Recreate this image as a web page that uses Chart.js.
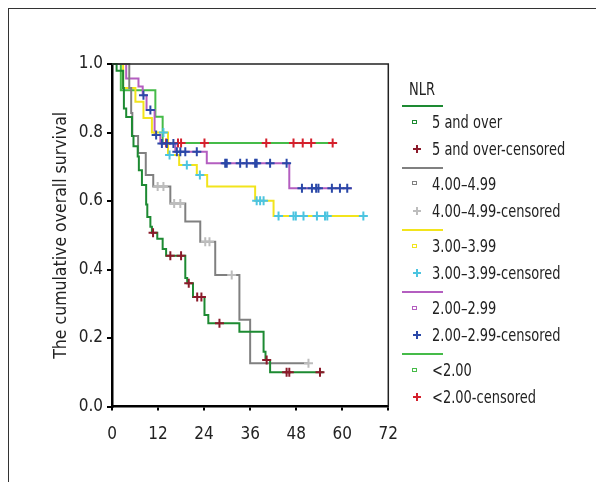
<!DOCTYPE html>
<html>
<head>
<meta charset="utf-8">
<script src="https://cdn.jsdelivr.net/npm/chart.js@4.4.1/dist/chart.umd.min.js"></script>
<style>
  body { margin: 0; background: #fff; font-family: "DejaVu Sans Condensed", "DejaVu Sans", sans-serif; }
  #frame { position: absolute; left: 8px; top: 8px; width: 600px; height: 480px; border-top: 1.5px solid #333; border-left: 1.5px solid #333; }
  #wrap { position: absolute; left: 0; top: 0; width: 596px; height: 482px; }
  .txt { position: absolute; font-size: 17px; line-height: 20px; color: #222; white-space: nowrap;
         transform: scaleX(0.85); transform-origin: 0 50%; }
  .ln { position: absolute; left: 402px; width: 41px; height: 2px; }
  .sq { position: absolute; left: 412px; width: 3px; height: 2px; border: 1.5px solid; }
  .cr { position: absolute; width: 8px; height: 8px; }
  .cr .h { position: absolute; left: 0; top: 3px; width: 8px; height: 2px; }
  .cr .v { position: absolute; left: 3px; top: 0; width: 2px; height: 8px; }
</style>
</head>
<body>
<div id="frame"></div>
<div id="wrap"><canvas id="km"></canvas></div>
<div id="legend"></div>
<script>
(function () {
  'use strict';

  const legendTitle = 'NLR';
  const groups = ['5 and over', '4.00–4.99', '3.00–3.99', '2.00–2.99', '<2.00'];
  const lineColors = ['#1d8a32', '#808080', '#f2e41c', '#b45ec0', '#45bb48'];
  const censorColors = ['#8b1a2a', '#bdbdbd', '#4cc4e0', '#2a48a8', '#d4202c'];

  // step points: [month, survival after the step]
  const over5Steps = [[0, 1], [1.2, 0.98], [2.9, 0.93], [3.1, 0.87], [3.7, 0.845], [5.2, 0.79], [5.6, 0.76],
    [6.7, 0.73], [7.0, 0.69], [7.8, 0.647], [8.9, 0.59], [9.2, 0.553], [10.0, 0.525], [10.4, 0.507],
    [11.8, 0.49], [13.2, 0.46], [14.1, 0.44], [19.1, 0.375], [19.6, 0.36], [21.1, 0.32], [24.1, 0.267],
    [25.1, 0.243], [33.2, 0.218], [39.5, 0.16], [40.0, 0.136], [41.2, 0.10], [55.1, 0.10]];
  const over5Censored = [10.7, 15.2, 18.0, 20.0, 22.2, 23.3, 28.0, 40.3, 45.5, 46.2, 54.2];

  const nlr4Steps = [[0, 1], [4.5, 0.93], [5.0, 0.857], [5.3, 0.79], [6.8, 0.74], [8.8, 0.676], [10.75, 0.642],
    [15.2, 0.593], [19.1, 0.54], [23.0, 0.481], [26.9, 0.384], [33.2, 0.253], [36.0, 0.126], [51.2, 0.126]];
  const nlr4Censored = [11.9, 13.4, 16.2, 17.8, 24.3, 25.4, 31.2, 51.2];

  const nlr3Steps = [[0, 1], [2.9, 0.93], [6.1, 0.89], [8.2, 0.842], [10.4, 0.80], [14.6, 0.734], [17.5, 0.705],
    [22.1, 0.676], [24.8, 0.642], [37.3, 0.601], [42.1, 0.556], [65.5, 0.556]];
  const nlr3Censored = [13.4, 15.0, 19.5, 22.9, 37.7, 38.6, 39.5, 43.4, 47.3, 47.9, 49.9, 53.4, 55.5, 56.1, 65.5];

  const nlr2Steps = [[0, 1], [3.7, 0.958], [6.9, 0.934], [8.0, 0.909], [9.0, 0.866], [11.1, 0.793], [12.6, 0.768],
    [16.5, 0.744], [24.7, 0.71], [46.2, 0.637], [62.5, 0.637]];
  const nlr2Censored = [8.2, 10.0, 11.5, 13.0, 14.3, 16.0, 16.9, 17.8, 19.1, 22.1, 29.5, 29.9, 33.4, 35.1, 37.3,
    37.7, 41.2, 45.5, 49.5, 52.1, 53.2, 53.8, 57.3, 59.4, 61.3];

  const under2Steps = [[0, 1], [2.3, 0.923], [11.3, 0.846], [13.2, 0.769], [58.6, 0.769]];
  const under2Censored = [14.1, 17.2, 18.0, 24.1, 40.2, 47.3, 49.7, 51.9, 57.5];

  const xTicks = [0, 12, 24, 36, 48, 60, 72];
  const yTicks = [0, 0.2, 0.4, 0.6, 0.8, 1.0];

  const allSteps = [over5Steps, nlr4Steps, nlr3Steps, nlr2Steps, under2Steps];
  const allCensored = [over5Censored, nlr4Censored, nlr3Censored, nlr2Censored, under2Censored];

  // survival level of a curve at time t (the step it sits on)
  function levelAt(steps, t) {
    let s = steps[0][1];
    steps.forEach(p => { if (p[0] <= t) s = p[1]; });
    return s;
  }

  const datasets = [];
  groups.forEach((g, i) => {
    datasets.push({
      type: 'line',
      label: g,
      order: 1,
      data: allSteps[i].map(p => ({ x: p[0], y: p[1] })),
      stepped: 'before', // horizontal, then drop at the event time
      borderColor: lineColors[i],
      borderWidth: 2,
      pointRadius: 0,
      fill: false,
      clip: 3
    });
  });
  // censored marks drawn on top of the curves
  groups.forEach((g, i) => {
    datasets.push({
      type: 'scatter',
      label: g + '-censored',
      order: 0,
      data: allCensored[i].map(t => ({ x: t, y: levelAt(allSteps[i], t) })),
      pointStyle: 'cross',
      pointRadius: 4.5,
      pointBorderWidth: 2,
      borderColor: censorColors[i],
      backgroundColor: censorColors[i],
      clip: 6
    });
  });

  const fontFamily = '"DejaVu Sans Condensed", "DejaVu Sans", sans-serif';

  const boxPlugin = {
    id: 'box',
    afterDatasetsDraw(chart) {
      const a = chart.chartArea;
      const ctx = chart.ctx;
      ctx.save();
      ctx.strokeStyle = '#222';
      ctx.lineWidth = 1.5;
      ctx.beginPath();
      ctx.moveTo(a.left, a.top);
      ctx.lineTo(a.right, a.top);
      ctx.lineTo(a.right, a.bottom);
      ctx.stroke();
      ctx.restore();
    }
  };

  new Chart(document.getElementById('km'), {
    data: { datasets: datasets },
    plugins: [boxPlugin],
    options: {
      responsive: true,
      maintainAspectRatio: false,
      animation: false,
      layout: { padding: { top: 64, left: 40, right: 207.7, bottom: 25.5 } },
      plugins: { legend: { display: false }, tooltip: { enabled: false } },
      scales: {
        x: {
          type: 'linear',
          min: xTicks[0],
          max: xTicks[xTicks.length - 1],
          afterBuildTicks: s => { s.ticks = xTicks.map(v => ({ value: v })); },
          afterFit: s => { s.height = 50; },
          ticks: { color: '#222', font: { family: fontFamily, size: 17 }, padding: 14, maxRotation: 0 },
          grid: { drawOnChartArea: false, drawTicks: true, tickLength: 4, color: '#000', lineWidth: 2 },
          border: { color: '#000', width: 2.5 }
        },
        y: {
          type: 'linear',
          min: 0,
          max: 1,
          afterBuildTicks: s => { s.ticks = yTicks.map(v => ({ value: v })); },
          afterFit: s => { s.width = 72; },
          ticks: { color: '#222', font: { family: fontFamily, size: 17 }, padding: 4, callback: v => v.toFixed(1) },
          grid: { drawOnChartArea: false, drawTicks: true, tickLength: 5, color: '#000', lineWidth: 2 },
          border: { color: '#000', width: 2.5 },
          title: { display: true, text: 'The cumulative overall survival', color: '#222',
                   font: { family: fontFamily, size: 17.5 }, padding: { top: 11, bottom: 0 } }
        }
      }
    }
  });

  // legend built from the same arrays
  const legend = document.getElementById('legend');
  function addText(text, left, cy) {
    const d = document.createElement('div');
    d.className = 'txt';
    d.textContent = text;
    d.style.left = left + 'px';
    d.style.top = (cy - 10) + 'px';
    legend.appendChild(d);
  }
  addText(legendTitle, 409, 88.5);
  const lineY = [106, 167.5, 230, 292, 354];
  groups.forEach((g, i) => {
    const ln = document.createElement('div');
    ln.className = 'ln';
    ln.style.top = (lineY[i] - 1) + 'px';
    ln.style.background = lineColors[i];
    legend.appendChild(ln);

    const sq = document.createElement('div');
    sq.className = 'sq';
    sq.style.top = (lineY[i] + 16 - 2.5) + 'px';
    sq.style.borderColor = lineColors[i];
    legend.appendChild(sq);
    addText(g, 432, lineY[i] + 16);

    const cr = document.createElement('div');
    cr.className = 'cr';
    cr.style.left = '412.5px';
    cr.style.top = (lineY[i] + 43 - 4) + 'px';
    cr.innerHTML = '<div class="h"></div><div class="v"></div>';
    cr.querySelectorAll('div').forEach(e => { e.style.background = censorColors[i]; });
    legend.appendChild(cr);
    addText(g + '-censored', 432, lineY[i] + 43);
  });
})();
</script>
</body>
</html>
